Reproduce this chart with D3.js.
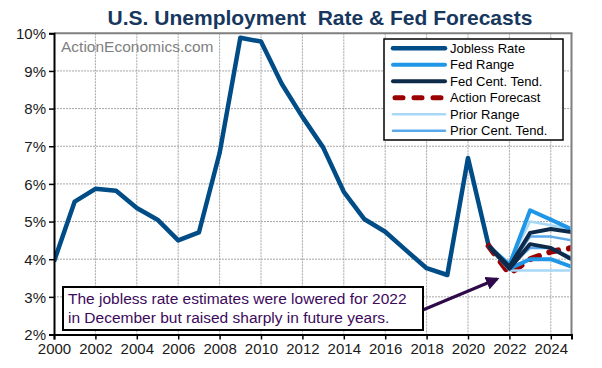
<!DOCTYPE html>
<html><head><meta charset="utf-8">
<script src="https://cdn.jsdelivr.net/npm/d3@7"></script>
<style>body{margin:0;background:#fff}svg{display:block;font-family:"Liberation Sans",Arial,sans-serif}</style>
</head><body><svg id="c" width="602" height="368"></svg>
<script>
const years = [2000,2001,2002,2003,2004,2005,2006,2007,2008,2009,2010,2011,2012,2013,2014,2015,2016,2017,2018,2019,2020,2021];
const jobless = [3.94,5.53,5.87,5.82,5.36,5.05,4.5,4.71,6.82,9.88,9.78,8.66,7.78,6.97,5.79,5.06,4.73,4.24,3.76,3.58,6.69,4.35];
const fcYears = [2021,2022,2023,2024,2025];
const fedRangeHigh = [4.35,3.85,5.3,5.05,4.8];
const fedRangeLow = [4.35,3.75,4.0,4.0,3.8];
const fedCTHigh = [4.35,3.8,4.7,4.8,4.72];
const fedCTLow = [4.35,3.75,4.4,4.3,4.0];
const priorRangeHigh = [4.35,3.9,5.0,4.9,4.8];
const priorRangeLow = [4.35,3.7,3.7,3.7,3.7];
const priorCTHigh = [4.35,3.8,4.6,4.6,4.5];
const priorCTLow = [4.35,3.8,4.3,4.3,4.05];
const actionForecast = [4.35,3.62,4.0,4.2,4.3];
const xTicks = [2000,2002,2004,2006,2008,2010,2012,2014,2016,2018,2020,2022,2024];
const yTicks = [2,3,4,5,6,7,8,9,10];
const legendLabels = ["Jobless Rate","Fed Range","Fed Cent. Tend.","Action Forecast","Prior Range","Prior Cent. Tend."];

const L=54, R=571.5, T=33.3, B=334.5;
const svg = d3.select("#c");
const x = d3.scaleLinear().domain([2000,2025]).range([L,R]);
const y = d3.scaleLinear().domain([2,10]).range([B,T]);

// grid
const g = svg.append("g");
g.selectAll(".hg").data(yTicks.slice(1,-1)).join("line")
  .attr("x1",L).attr("x2",R).attr("y1",d=>y(d)).attr("y2",d=>y(d))
  .attr("stroke","#a6a6a6").attr("stroke-width",1).attr("stroke-dasharray","2,1");
g.selectAll(".vg").data(xTicks.slice(1)).join("line")
  .attr("y1",T).attr("y2",B).attr("x1",d=>x(d)).attr("x2",d=>x(d))
  .attr("stroke","#a6a6a6").attr("stroke-width",1).attr("stroke-dasharray","2,1");

// border top/right
svg.append("line").attr("x1",L).attr("x2",R+1).attr("y1",T).attr("y2",T).attr("stroke","#7f7f7f").attr("stroke-width",2);
svg.append("line").attr("x1",R).attr("x2",R).attr("y1",T).attr("y2",B).attr("stroke","#7f7f7f").attr("stroke-width",2);

// watermark
svg.append("text").attr("x",61).attr("y",52).attr("font-size",15.5).attr("fill","#7f7f7f").text("ActionEconomics.com");

// clip
svg.append("clipPath").attr("id","pc").append("rect").attr("x",L).attr("y",T-10).attr("width",R-L-1).attr("height",B-T+10);
const plot = svg.append("g").attr("clip-path","url(#pc)");
const line = d3.line().x(d=>x(d[0])).y(d=>y(d[1]));
const zip = (xs,vs)=>xs.map((v,i)=>[v,vs[i]]);

const styles = {
  jobless:{c:"#004c87",w:4.5},
  fedRange:{c:"#1f97e6",w:4},
  fedCT:{c:"#0e2a4a",w:4},
  action:{c:"#9a0000",w:6,dash:"9,11"},
  priorRange:{c:"#a8d8f8",w:2.5},
  priorCT:{c:"#5aa9ec",w:2.5}
};
function draw(vals, s, xs){
  plot.append("path").datum(zip(xs,vals)).attr("d",line).attr("fill","none")
    .attr("stroke",s.c).attr("stroke-width",s.w).attr("stroke-linejoin","round")
    .attr("stroke-linecap",s.dash?"round":"butt").attr("stroke-dasharray",s.dash||null);
}
draw(jobless, styles.jobless, years);
draw(actionForecast, styles.action, fcYears);
draw(priorRangeLow, styles.priorRange, fcYears);
draw(priorRangeHigh, styles.priorRange, fcYears);
draw(fedRangeLow, styles.fedRange, fcYears);
draw(fedRangeHigh, styles.fedRange, fcYears);
draw(priorCTLow, styles.priorCT, fcYears);
draw(priorCTHigh, styles.priorCT, fcYears);
draw(fedCTLow, styles.fedCT, fcYears);
draw(fedCTHigh, styles.fedCT, fcYears);

// axes
const yAxis = svg.append("g").attr("transform",`translate(${L},0)`)
  .call(d3.axisLeft(y).tickValues(yTicks).tickSize(5).tickFormat(d=>d+"%"));
const xAxis = svg.append("g").attr("transform",`translate(0,${B})`)
  .call(d3.axisBottom(x).tickValues(xTicks).tickSize(5).tickFormat(d=>d));
[yAxis,xAxis].forEach(a=>{
  a.select(".domain").attr("stroke","#000").attr("stroke-width",2);
  a.selectAll(".tick line").attr("stroke","#000").attr("stroke-width",1.5);
  a.selectAll("text").attr("font-size",15).attr("fill","#1a1a1a").attr("font-family","Liberation Sans, Arial, sans-serif");
});
yAxis.selectAll("text").attr("x",-8).attr("dy","0.35em");
xAxis.selectAll("text").attr("y",9).attr("dy","0.71em");

// title
svg.append("text").attr("x",320).attr("y",25).attr("text-anchor","middle")
  .attr("font-size",21).attr("font-weight","bold").attr("fill","#17375e")
  .style("white-space","pre")
  .text("U.S. Unemployment  Rate & Fed Forecasts");

// legend
const lg = svg.append("g");
lg.append("rect").attr("x",384).attr("y",39).attr("width",179).attr("height",101)
  .attr("fill","#fff").attr("stroke","#000").attr("stroke-width",1.5);
const lkeys = ["jobless","fedRange","fedCT","action","priorRange","priorCT"];
legendLabels.forEach((lab,i)=>{
  const yy = 48.3 + i*16.5;
  const s = styles[lkeys[i]];
  lg.append("line").attr("x1",s.dash?395:393).attr("x2",s.dash?443:445).attr("y1",yy).attr("y2",yy)
    .attr("stroke",s.c).attr("stroke-width",s.dash?5:s.w).attr("stroke-dasharray",s.dash?"8,11":null)
    .attr("stroke-linecap","round");
  lg.append("text").attr("x",450).attr("y",yy).attr("dy","0.35em").attr("font-size",13).attr("fill","#000").text(lab);
});

// annotation
svg.append("defs").append("marker").attr("id","ah").attr("viewBox","0 0 10 10").attr("refX",8).attr("refY",5)
  .attr("markerWidth",4.5).attr("markerHeight",4.5).attr("orient","auto")
  .append("path").attr("d","M0,0 L10,5 L0,10 Z").attr("fill","#2e0a4a");
svg.append("line").attr("x1",418).attr("y1",312).attr("x2",497).attr("y2",279)
  .attr("stroke","#2e0a4a").attr("stroke-width",3).attr("marker-end","url(#ah)");
svg.append("rect").attr("x",63).attr("y",287).attr("width",360).attr("height",43)
  .attr("fill","#fff").attr("stroke","#000").attr("stroke-width",2);
const at = svg.append("text").attr("font-size",15.5).attr("fill","#3d0a5c");
at.append("tspan").attr("x",68).attr("y",304).text("The jobless rate estimates were lowered for 2022");
at.append("tspan").attr("x",68).attr("y",323).text("in December but raised sharply in future years.");
</script></body></html>
